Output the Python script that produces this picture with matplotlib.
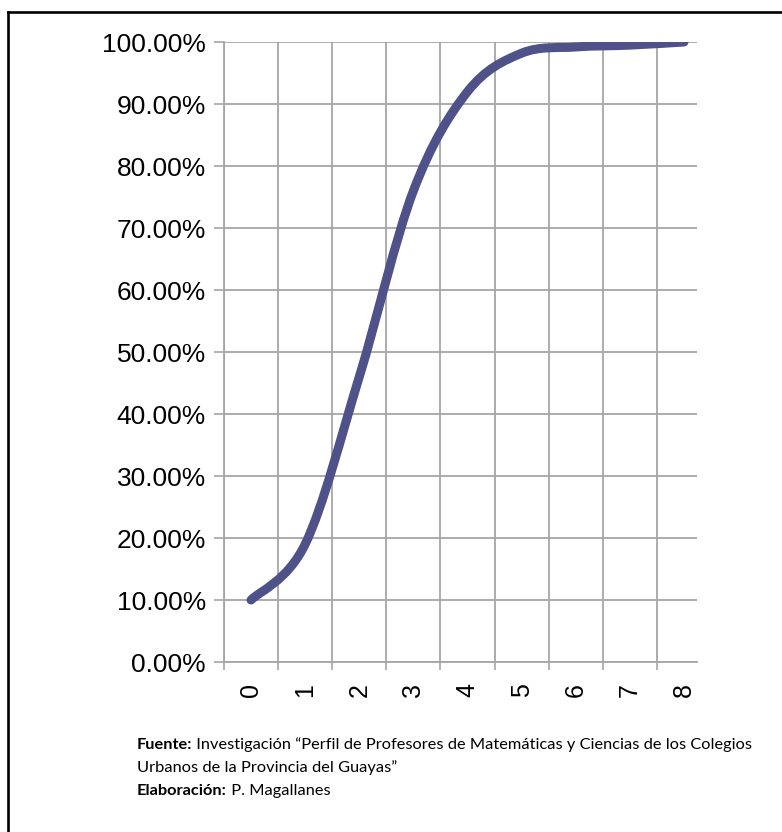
import numpy as np
import matplotlib.pyplot as plt
from matplotlib.path import Path
from matplotlib.patches import PathPatch
from matplotlib.lines import Line2D

# datos (porcentaje acumulado)
categorias = ['0', '1', '2', '3', '4', '5', '6', '7', '8']
acumulado = [10.0, 19.0, 46.0, 76.0, 92.0, 98.2, 99.2, 99.5, 100.0]
y_ticks = [0, 10, 20, 30, 40, 50, 60, 70, 80, 90, 100]

nota_fuente = ("Fuente:", " Investigación “Perfil de Profesores de Matemáticas y Ciencias de los Colegios")
nota_fuente2 = "Urbanos de la Provincia del Guayas”"
nota_elab = ("Elaboración:", " P. Magallanes")

color_linea = '#4f5189'
color_grid = '#a6a6a6'


def curva_suave(xs, ys):
    # linea suavizada tipo Excel (bezier que pasa por los puntos)
    pts = np.column_stack([xs, ys]).astype(float)
    n = len(pts)
    verts = [pts[0]]
    codes = [Path.MOVETO]
    for i in range(n - 1):
        p0 = pts[max(i - 1, 0)]
        p1 = pts[i]
        p2 = pts[i + 1]
        p3 = pts[min(i + 2, n - 1)]
        verts += [p1 + (p2 - p0) / 6, p2 - (p3 - p1) / 6, p2]
        codes += [Path.CURVE4] * 3
    return Path(verts, codes)


fig = plt.figure(figsize=(7.82, 8.32), dpi=100)
ax = fig.add_axes([0.2864, 0.2043, 0.6049, 0.7452])

x = np.arange(len(categorias))
ax.add_patch(PathPatch(curva_suave(x, acumulado), facecolor='none', edgecolor=color_linea,
                       lw=6.5, capstyle='round', joinstyle='round', zorder=3))

ax.set_xlim(-0.5, 8.24)
ax.set_ylim(0, 100)

# eje x: lineas entre categorias, etiquetas al centro
ax.set_xticks(x - 0.5)
ax.set_xticklabels([])
ax.set_xticks(x, minor=True)
ax.set_xticklabels(categorias, minor=True, rotation=90, fontsize=18, family='Liberation Sans')
ax.tick_params(axis='x', which='major', length=6, width=1.2, color=color_grid)
ax.tick_params(axis='x', which='minor', length=0, pad=15)

ax.set_yticks(y_ticks)
ax.set_yticklabels([f'{v:.2f}%' for v in y_ticks], fontsize=19, family='Liberation Sans')
ax.tick_params(axis='y', length=7, width=1.2, color=color_grid, pad=6)

ax.grid(True, which='major', color=color_grid, lw=1.3)
ax.set_axisbelow(True)
for lado in ['top', 'right']:
    ax.spines[lado].set_visible(False)
for lado in ['left', 'bottom']:
    ax.spines[lado].set_color(color_grid)
    ax.spines[lado].set_linewidth(1.3)

# marco del documento (solo arriba e izquierda)
fig.add_artist(Line2D([8 / 782, 8 / 782], [0, 1 - 12 / 832], color='black', lw=1.9))
fig.add_artist(Line2D([8 / 782, 1], [1 - 12 / 832, 1 - 12 / 832], color='black', lw=1.9))

# nota al pie
fs = 11.8
x0 = 137 / 782
t1 = fig.text(x0, 1 - 752 / 832, nota_fuente[0], fontsize=fs, weight='bold', family='Lato', va='bottom')
ax.annotate(nota_fuente[1], xy=(1, 0), xycoords=t1, fontsize=fs, family='Lato', va='bottom',
            annotation_clip=False)
fig.text(x0, 1 - 775 / 832, nota_fuente2, fontsize=fs, family='Lato', va='bottom')
t3 = fig.text(x0, 1 - 798 / 832, nota_elab[0], fontsize=fs, weight='bold', family='Lato', va='bottom')
ax.annotate(nota_elab[1], xy=(1, 0), xycoords=t3, fontsize=fs, family='Lato', va='bottom',
            annotation_clip=False)

fig.savefig('out.png', dpi=100)
